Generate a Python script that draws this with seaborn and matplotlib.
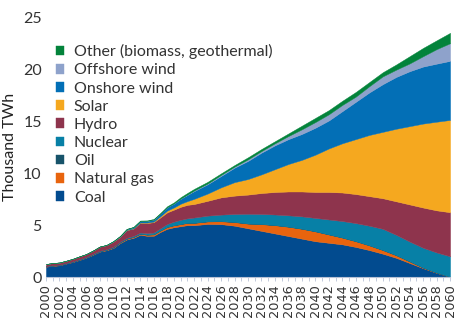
import matplotlib
matplotlib.use("Agg")
import matplotlib.pyplot as plt
from matplotlib.ticker import MultipleLocator, FixedLocator
import seaborn as sns
import numpy as np

# Years: annual history, two-yearly outlook
years = list(range(2000, 2023)) + list(range(2024, 2061, 2))

coal = [1.00, 1.08, 1.13, 1.30, 1.45, 1.65, 1.87, 2.15, 2.45, 2.58, 2.80, 3.27,
        3.62, 3.78, 4.08, 3.97, 3.98, 4.35, 4.65, 4.80, 4.90, 5.00, 5.00,
        5.12, 5.10, 4.95, 4.70, 4.45, 4.20, 3.95, 3.70, 3.45, 3.30, 3.15, 2.90,
        2.60, 2.25, 1.85, 1.35, 0.85, 0.40, 0.02]
natural_gas = [0.01, 0.01, 0.01, 0.01, 0.01, 0.02, 0.02, 0.03, 0.03, 0.04, 0.05, 0.06,
               0.07, 0.08, 0.09, 0.11, 0.13, 0.14, 0.17, 0.19, 0.20, 0.22, 0.22,
               0.24, 0.28, 0.35, 0.45, 0.65, 0.80, 0.90, 0.95, 0.95, 0.80, 0.65, 0.55,
               0.45, 0.35, 0.25, 0.15, 0.05, 0.02, 0.00]
oil = [0.02] * 23 + [0.02] * 18 + [0.01]
nuclear = [0.02, 0.02, 0.02, 0.02, 0.03, 0.03, 0.03, 0.04, 0.04, 0.04, 0.05, 0.06,
           0.07, 0.08, 0.10, 0.13, 0.16, 0.20, 0.28, 0.33, 0.40, 0.42, 0.50,
           0.54, 0.62, 0.76, 0.93, 0.96, 1.01, 1.08, 1.18, 1.28, 1.43, 1.58, 1.73,
           1.88, 2.03, 1.95, 1.90, 1.90, 1.93, 1.97]
hydro = [0.20, 0.22, 0.22, 0.22, 0.25, 0.28, 0.28, 0.32, 0.40, 0.40, 0.50, 0.48,
         0.75, 0.72, 0.95, 0.98, 1.00, 1.05, 1.12, 1.16, 1.25, 1.30, 1.30,
         1.43, 1.66, 1.77, 1.85, 2.02, 2.17, 2.30, 2.40, 2.50, 2.65, 2.75, 2.80,
         2.85, 2.95, 3.23, 3.58, 3.88, 4.06, 4.25]
solar = [0.0] * 12 + [0.01, 0.01, 0.02, 0.04, 0.06, 0.11, 0.17, 0.21, 0.30, 0.36, 0.50,
         0.70, 0.97, 1.30, 1.50, 1.80, 2.20, 2.65, 3.05, 3.60, 4.20, 4.75, 5.30,
         5.90, 6.40, 7.00, 7.55, 8.10, 8.55, 8.90]
onshore_wind = [0.0] * 9 + [0.02, 0.04, 0.06, 0.09, 0.12, 0.15, 0.16, 0.19, 0.25, 0.33,
                0.38, 0.48, 0.60, 0.75,
                0.90, 1.10, 1.40, 1.75, 2.10, 2.30, 2.40, 2.50, 2.60, 2.70, 3.10, 3.60,
                4.10, 4.60, 5.00, 5.30, 5.50, 5.60, 5.70]
offshore_wind = [0.0] * 19 + [0.01, 0.02, 0.04, 0.06,
                 0.07, 0.10, 0.10, 0.15, 0.15, 0.20, 0.30, 0.45, 0.55, 0.60, 0.60, 0.50,
                 0.60, 0.75, 0.70, 0.75, 1.00, 1.40, 1.70]
other = [0.0] * 11 + [0.01, 0.02, 0.03, 0.04, 0.05, 0.06, 0.07, 0.09, 0.10, 0.13, 0.15, 0.15,
         0.16, 0.15, 0.15, 0.20, 0.20, 0.20, 0.25, 0.35, 0.40, 0.40, 0.40, 0.45,
         0.40, 0.40, 0.50, 0.70, 0.80, 0.85, 1.00]

labels = ["Coal", "Natural gas", "Oil", "Nuclear", "Hydro", "Solar",
          "Onshore wind", "Offshore wind", "Other (biomass, geothermal)"]
colors = ["#024b8f", "#e8640e", "#17536a", "#0780a6", "#8e344d", "#f5a81f",
          "#036fb6", "#8ea2cb", "#03833b"]

sns.set_theme(style="white")
plt.rcParams["font.family"] = ["Lato", "DejaVu Sans"]

fig = plt.figure(figsize=(4.64, 3.24), dpi=100)
ax = fig.add_axes([0.099, 0.145, 0.871, 0.80])

series = [coal, natural_gas, oil, nuclear, hydro, solar, onshore_wind, offshore_wind, other]
polys = ax.stackplot(years, *[np.array(s) for s in series], colors=colors, labels=labels,
                     linewidth=0.3)
for p, c in zip(polys, colors):
    p.set_edgecolor(c)

ax.set_xlim(2000, 2060)
ax.set_ylim(0, 25)
ax.yaxis.set_major_locator(MultipleLocator(5))
ax.set_ylabel("Thousand TWh", fontsize=11.5, color="#222222", labelpad=4)
ax.tick_params(axis="y", length=0, labelsize=11.5, labelcolor="#333333", pad=3)

ax.xaxis.set_major_locator(FixedLocator(list(range(2000, 2061, 2))))
ax.xaxis.set_minor_locator(MultipleLocator(1))
ax.tick_params(axis="x", which="both", bottom=True, length=3, width=0.6, color="#b8c2d6",
               pad=2)
for lab in ax.get_xticklabels():
    lab.set_family(["DejaVu Sans"])
    lab.set_rotation(90)
    lab.set_fontsize(9.3)
    lab.set_color("#333333")

for side in ("top", "right", "left"):
    ax.spines[side].set_visible(False)
ax.spines["bottom"].set_color("#b8c2d6")
ax.spines["bottom"].set_linewidth(0.8)

handles, labs = ax.get_legend_handles_labels()
leg = ax.legend(handles[::-1], labs[::-1], loc="upper left", bbox_to_anchor=(0.0, 0.935),
                frameon=False, fontsize=11.5, handlelength=0.55, handleheight=0.55,
                handletextpad=0.6, labelspacing=0.26, borderaxespad=0.2)
for t in leg.get_texts():
    t.set_color("#333333")

fig.savefig("out.png", dpi=100)
